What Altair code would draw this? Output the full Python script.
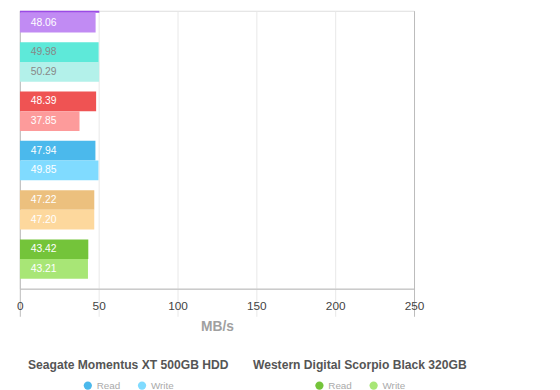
import altair as alt
import pandas as pd

# ---- data ----
drives = [
    "Drive 1",
    "Drive 2",
    "Drive 3",
    "Seagate Momentus XT 500GB HDD",
    "Drive 5",
    "Western Digital Scorpio Black 320GB",
]
read_mbs = [50.40, 49.98, 48.39, 47.94, 47.22, 43.42]
write_mbs = [48.06, 50.29, 37.85, 49.85, 47.20, 43.21]
types = ["Read", "Write"]
x_ticks = [0, 50, 100, 150, 200, 250]

# ---- styles ----
read_colors = ["#9b4ae6", "#5ee9d9", "#ef5353", "#4bb9ec", "#ecc07e", "#74c43a"]
write_colors = ["#c18bf3", "#b3f1ea", "#fd9b9b", "#80dbff", "#fdd89d", "#a8e676"]
label_colors = ["#ffffff", "#888888", "#ffffff", "#ffffff", "#ffffff", "#ffffff"]
legend_pos = {3: (8, 354), 5: (236, 354)}
FONT = "Liberation Sans"

y_scale = alt.Scale(domain=drives, range=[-28, 282], paddingInner=0.2, paddingOuter=0.2)
yoff_scale = alt.Scale(domain=types, paddingInner=0, paddingOuter=0)
x_scale = alt.Scale(domain=[0, 250], nice=False)

x_axis = alt.Axis(
    values=x_ticks,
    grid=True,
    gridColor={"condition": {"test": "datum.value == 0 || datum.value == 250", "value": "#bbbbbb"},
               "value": "#e8e8e8"},
    domain=True,
    domainColor="#bbbbbb",
    ticks=False,
    labelFlush=False,
    labelPadding=12,
    labelFontSize=12,
    labelColor="#444444",
    labelFont=FONT,
    title="MB/s",
    titleFontSize=14,
    titleColor="#a0a0a0",
    titleFont=FONT,
    titleFontWeight="bold",
    titlePadding=8,
)

layers = []
for i, d in enumerate(drives):
    df = pd.DataFrame({
        "drive": [d, d],
        "type": types,
        "mbs": [read_mbs[i], write_mbs[i]],
    })
    if i in legend_pos:
        lx, ly = legend_pos[i]
        legend = alt.Legend(
            title=d,
            orient="none",
            legendX=lx,
            legendY=ly,
            direction="horizontal",
            titleAnchor="middle",
            titleFontSize=12.3,
            titleFont=FONT,
            titleFontWeight="bold",
            titleColor="#555555",
            titleLimit=400,
            titlePadding=9,
            labelFont=FONT,
            labelFontSize=10,
            labelColor="#aaaaaa",
            labelOffset=4,
            columnPadding=17,
            symbolType="circle",
            symbolSize=70,
            symbolStrokeWidth=0,
        )
    else:
        legend = None
    base = alt.Chart(df).encode(
        y=alt.Y("drive:N", scale=y_scale, axis=None, sort=drives),
        yOffset=alt.YOffset("type:N", scale=yoff_scale, sort=types),
    )
    bars = base.mark_bar(clip=True).encode(
        x=alt.X("mbs:Q", scale=x_scale, axis=x_axis),
        color=alt.Color(
            "type:N",
            scale=alt.Scale(domain=types, range=[read_colors[i], write_colors[i]]),
            legend=legend,
        ),
    )
    text = base.mark_text(
        clip=True, align="left", baseline="middle", dx=11,
        font=FONT, fontSize=10.5, color=label_colors[i],
    ).encode(
        x=alt.datum(0, scale=x_scale),
        text=alt.Text("mbs:Q", format=".2f"),
    )
    layers += [bars, text]

chart = (
    alt.layer(*layers)
    .resolve_scale(color="independent")
    .properties(
        width=400,
        height=282,
        autosize="none",
        padding={"left": 12, "top": 0, "right": 140, "bottom": 100},
    )
    .configure_view(strokeOpacity=0)
    .configure(font=FONT)
)

chart.save("out.html", embed_options={"renderer": "svg", "actions": False})
